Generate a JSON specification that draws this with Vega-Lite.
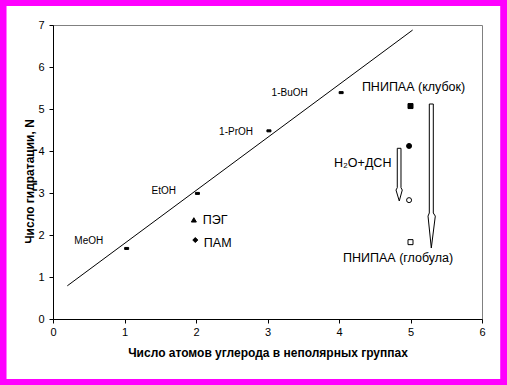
{
  "$schema": "https://vega.github.io/schema/vega-lite/v6.json",
  "width": 429,
  "height": 294,
  "autosize": {"type": "none"},
  "padding": {"left": 53, "top": 25, "right": 25, "bottom": 66},
  "background": "white",
  "config": {
    "font": "Liberation Sans",
    "view": {"stroke": "#808080", "strokeWidth": 1},
    "axis": {
      "grid": false,
      "domainColor": "#000000",
      "domainWidth": 1,
      "tickColor": "#000000",
      "tickSize": 4,
      "tickWidth": 1,
      "labelFont": "Liberation Sans",
      "labelFontSize": 11,
      "labelColor": "#000000",
      "titleFont": "Liberation Sans",
      "titleFontSize": 12,
      "titleFontWeight": "bold",
      "titleColor": "#000000"
    },
    "axisX": {"labelFlush": false, "labelPadding": 3, "titlePadding": 10},
    "axisY": {"labelPadding": 5, "titlePadding": 1, "titleY": 156}
  },
  "datasets": {
    "frame": [
      {"side": "top", "x0": -0.76, "x1": 6.37, "y0": 7.62, "y1": 7.45},
      {"side": "bottom", "x0": -0.76, "x1": 6.37, "y0": -1.43, "y1": -1.6},
      {"side": "left", "x0": -0.76, "x1": -0.65, "y0": 7.62, "y1": -1.6},
      {"side": "right", "x0": 6.255, "x1": 6.37, "y0": 7.62, "y1": -1.6}
    ],
    "points": [
      {"series": "спирт", "name": "MeOH", "x": 1.03, "y": 1.68},
      {"series": "спирт", "name": "EtOH", "x": 2.02, "y": 2.99},
      {"series": "спирт", "name": "1-PrOH", "x": 3.02, "y": 4.48},
      {"series": "спирт", "name": "1-BuOH", "x": 4.03, "y": 5.39},
      {"series": "ПНИПАА (клубок)", "name": "ПНИПАА", "x": 5.0, "y": 5.07},
      {"series": "ПНИПАА+ДСН (клубок)", "name": "ПНИПАА+ДСН", "x": 4.98, "y": 4.12},
      {"series": "ПНИПАА+ДСН (глобула)", "name": "ПНИПАА+ДСН", "x": 4.98, "y": 2.83},
      {"series": "ПНИПАА (глобула)", "name": "ПНИПАА", "x": 5.0, "y": 1.83},
      {"series": "ПЭГ", "name": "ПЭГ", "x": 1.97, "y": 2.36},
      {"series": "ПАМ", "name": "ПАМ", "x": 1.99, "y": 1.88}
    ],
    "fit": [
      {"x": 0.2, "y": 0.79},
      {"x": 5.03, "y": 6.88}
    ],
    "arrows": [
      {"arrow": "big", "order": 1, "x": 5.263, "y": 5.119},
      {"arrow": "big", "order": 2, "x": 5.319, "y": 5.119},
      {"arrow": "big", "order": 3, "x": 5.319, "y": 2.524},
      {"arrow": "big", "order": 4, "x": 5.347, "y": 2.45},
      {"arrow": "big", "order": 5, "x": 5.291, "y": 1.69},
      {"arrow": "big", "order": 6, "x": 5.245, "y": 2.45},
      {"arrow": "big", "order": 7, "x": 5.263, "y": 2.524},
      {"arrow": "big", "order": 8, "x": 5.263, "y": 5.119},
      {"arrow": "small", "order": 1, "x": 4.815, "y": 4.064},
      {"arrow": "small", "order": 2, "x": 4.867, "y": 4.064},
      {"arrow": "small", "order": 3, "x": 4.867, "y": 3.126},
      {"arrow": "small", "order": 4, "x": 4.885, "y": 3.071},
      {"arrow": "small", "order": 5, "x": 4.843, "y": 2.81},
      {"arrow": "small", "order": 6, "x": 4.797, "y": 3.071},
      {"arrow": "small", "order": 7, "x": 4.815, "y": 3.126},
      {"arrow": "small", "order": 8, "x": 4.815, "y": 4.064}
    ],
    "labels": [
      {"kind": "alcohol", "text": "MeOH", "x": 0.5, "y": 1.86},
      {"kind": "alcohol", "text": "EtOH", "x": 1.55, "y": 3.05},
      {"kind": "alcohol", "text": "1-PrOH", "x": 2.56, "y": 4.46},
      {"kind": "alcohol", "text": "1-BuOH", "x": 3.31, "y": 5.37},
      {"kind": "polymer", "text": "ПНИПАА (клубок)", "x": 4.32, "y": 5.53},
      {"kind": "polymer", "text": "H₂O+ДСН", "x": 3.93, "y": 3.71},
      {"kind": "polymer", "text": "ПЭГ", "x": 2.094, "y": 2.36},
      {"kind": "polymer", "text": "ПАМ", "x": 2.11, "y": 1.82},
      {"kind": "polymer", "text": "ПНИПАА (глобула)", "x": 4.056, "y": 1.45}
    ]
  },
  "encoding": {
    "x": {"field": "x", "type": "quantitative", "scale": {"domain": [0, 6], "nice": false, "zero": false}, "axis": {"values": [0, 1, 2, 3, 4, 5, 6]}, "title": "Число атомов углерода в неполярных группах"},
    "y": {"field": "y", "type": "quantitative", "scale": {"domain": [0, 7], "nice": false, "zero": false}, "axis": {"values": [0, 1, 2, 3, 4, 5, 6, 7]}, "title": "Число гидратации, N"}
  },
  "layer": [
    {
      "data": {"name": "frame"},
      "mark": {"type": "rect", "color": "#ff00ff", "fill": "#ff00ff", "fillOpacity": 1, "opacity": 1, "strokeWidth": 0, "clip": false},
      "encoding": {
        "x": {"field": "x0", "type": "quantitative", "scale": {"domain": [0, 6], "nice": false, "zero": false}, "axis": {"values": [0, 1, 2, 3, 4, 5, 6]}, "title": "Число атомов углерода в неполярных группах"},
        "x2": {"field": "x1"},
        "y": {"field": "y0", "type": "quantitative", "scale": {"domain": [0, 7], "nice": false, "zero": false}, "axis": {"values": [0, 1, 2, 3, 4, 5, 6, 7]}, "title": "Число гидратации, N"},
        "y2": {"field": "y1"},
        "detail": {"field": "side", "type": "nominal"}
      }
    },
    {
      "data": {"name": "fit"},
      "mark": {"type": "line", "color": "#000000", "strokeWidth": 1},
      "encoding": {}
    },
    {
      "data": {"name": "arrows"},
      "mark": {"type": "line", "color": "#000000", "strokeWidth": 1, "strokeJoin": "miter"},
      "encoding": {
        "detail": {"field": "arrow", "type": "nominal"},
        "order": {"field": "order", "type": "quantitative"}
      }
    },
    {
      "data": {"name": "points"},
      "transform": [{"filter": "datum.series === 'спирт'"}],
      "mark": {"type": "point", "shape": "M-1,-0.5H1V0.5H-1Z", "size": 16, "filled": true, "fill": "#000000", "stroke": "#000000", "strokeWidth": 1, "opacity": 1}
    },
    {
      "data": {"name": "points"},
      "transform": [{"filter": "datum.series !== 'спирт'"}],
      "mark": {"type": "point", "size": 25, "filled": true, "stroke": "#000000", "strokeWidth": 1, "opacity": 1},
      "encoding": {
        "shape": {"field": "series", "type": "nominal", "legend": null, "scale": {"domain": ["ПНИПАА (клубок)", "ПНИПАА+ДСН (клубок)", "ПНИПАА+ДСН (глобула)", "ПНИПАА (глобула)", "ПЭГ", "ПАМ"], "range": ["square", "circle", "circle", "square", "triangle-up", "diamond"]}},
        "fill": {"field": "series", "type": "nominal", "legend": null, "scale": {"domain": ["ПНИПАА (клубок)", "ПНИПАА+ДСН (клубок)", "ПНИПАА+ДСН (глобула)", "ПНИПАА (глобула)", "ПЭГ", "ПАМ"], "range": ["#000000", "#000000", "#ffffff", "#ffffff", "#000000", "#000000"]}}
      }
    },
    {
      "data": {"name": "labels"},
      "transform": [{"filter": "datum.kind === 'alcohol'"}],
      "mark": {"type": "text", "align": "center", "baseline": "middle", "font": "Liberation Sans", "fontSize": 10, "color": "#000000"},
      "encoding": {"text": {"field": "text", "type": "nominal"}}
    },
    {
      "data": {"name": "labels"},
      "transform": [{"filter": "datum.kind === 'polymer'"}],
      "mark": {"type": "text", "align": "left", "baseline": "middle", "font": "Liberation Sans", "fontSize": 12.5, "color": "#000000"},
      "encoding": {"text": {"field": "text", "type": "nominal"}}
    }
  ]
}
